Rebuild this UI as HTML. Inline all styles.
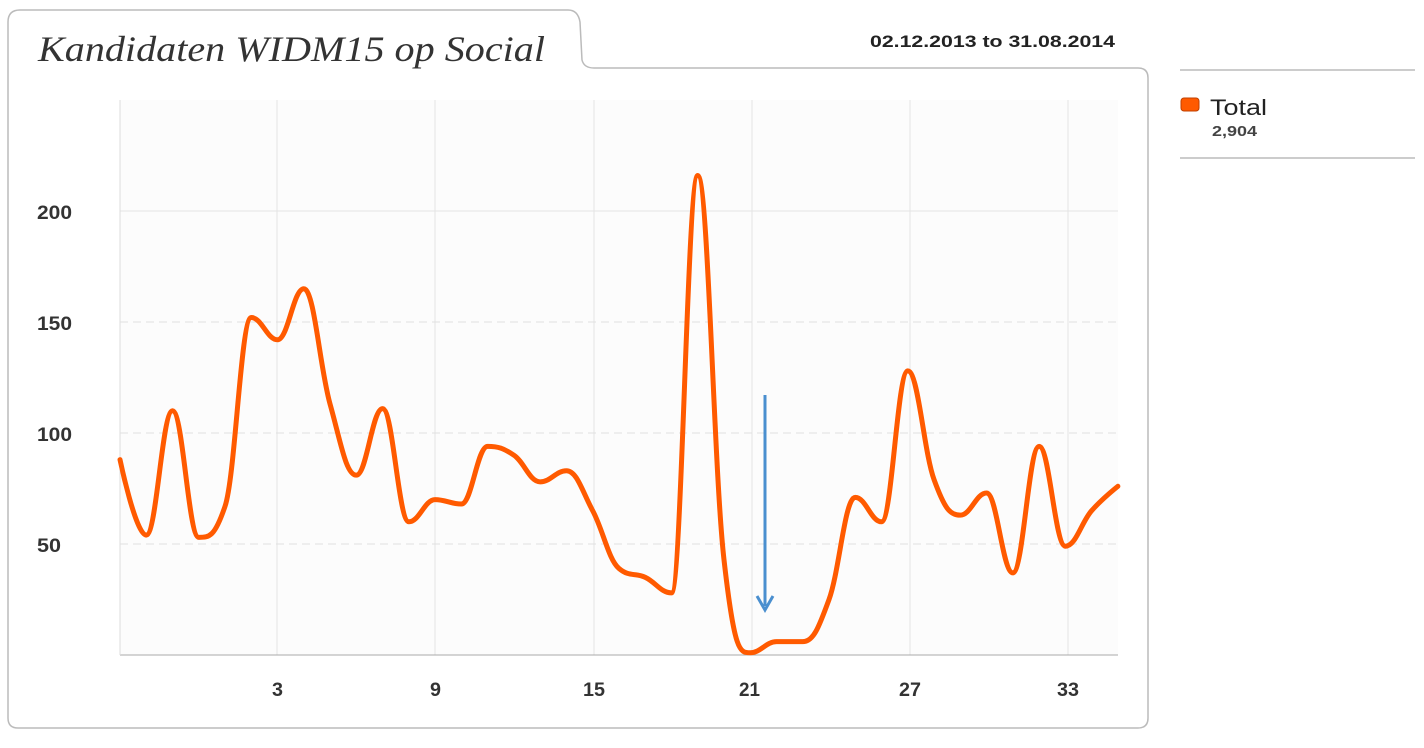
<!DOCTYPE html>
<html><head><meta charset="utf-8"><style>
body{margin:0;background:#fff;width:1424px;height:743px;overflow:hidden;font-family:"Liberation Sans",sans-serif}
.t{font-size:19px;font-weight:bold;fill:#333}
</style></head><body>
<svg width="1424" height="743" xmlns="http://www.w3.org/2000/svg">
<path d="M8,68 V22 Q8,10 20,10 H568 Q578,10 580,22 L582,60 Q584,68 594,68 H1138 Q1148,68 1148,78 V718 Q1148,728 1138,728 H18 Q8,728 8,718 Z" fill="#fff" stroke="#bbb" stroke-width="1.5"/>
<text x="38" y="61" font-family="Liberation Serif,serif" font-style="italic" font-size="36" fill="#333" textLength="507" lengthAdjust="spacingAndGlyphs">Kandidaten WIDM15 op Social</text>
<text x="870" y="47" font-size="17" font-weight="bold" fill="#222" textLength="245" lengthAdjust="spacingAndGlyphs">02.12.2013 to 31.08.2014</text>
<rect x="120" y="100" width="998" height="555" fill="#fcfcfc"/>
<g stroke="#e4e4e4" stroke-width="1">
<line x1="277" y1="100" x2="277" y2="655"/><line x1="435" y1="100" x2="435" y2="655"/><line x1="594" y1="100" x2="594" y2="655"/><line x1="752" y1="100" x2="752" y2="655"/><line x1="910" y1="100" x2="910" y2="655"/><line x1="1068" y1="100" x2="1068" y2="655"/>
<line x1="120" y1="211" x2="1118" y2="211"/>
</g>
<g stroke="#e0e0e0" stroke-dasharray="8,5">
<line x1="120" y1="322" x2="1118" y2="322"/><line x1="120" y1="433" x2="1118" y2="433"/><line x1="120" y1="544" x2="1118" y2="544"/>
</g>
<line x1="120" y1="655" x2="1118" y2="655" stroke="#aaa"/>
<line x1="120" y1="100" x2="120" y2="655" stroke="#ddd"/>
<text class="t" x="37" y="219" textLength="35" lengthAdjust="spacingAndGlyphs">200</text>
<text class="t" x="37" y="330" textLength="35" lengthAdjust="spacingAndGlyphs">150</text>
<text class="t" x="37" y="441" textLength="35" lengthAdjust="spacingAndGlyphs">100</text>
<text class="t" x="37" y="552" textLength="24" lengthAdjust="spacingAndGlyphs">50</text>
<text class="t" x="272" y="696" textLength="11" lengthAdjust="spacingAndGlyphs">3</text>
<text class="t" x="430" y="696" textLength="11" lengthAdjust="spacingAndGlyphs">9</text>
<text class="t" x="583" y="696" textLength="22" lengthAdjust="spacingAndGlyphs">15</text>
<text class="t" x="739" y="696" textLength="21" lengthAdjust="spacingAndGlyphs">21</text>
<text class="t" x="899" y="696" textLength="22" lengthAdjust="spacingAndGlyphs">27</text>
<text class="t" x="1057" y="696" textLength="22" lengthAdjust="spacingAndGlyphs">33</text>
<path id="ln" d="" fill="none" stroke="#ff5a00" stroke-width="5" stroke-linejoin="round" stroke-linecap="round"/>
<line x1="765" y1="395" x2="765" y2="606" stroke="#4a8fcf" stroke-width="3"/>
<path d="M757,596 L765,610 L773,596" fill="none" stroke="#4a8fcf" stroke-width="3"/>
<line x1="1180" y1="70" x2="1415" y2="70" stroke="#999"/>
<rect x="1181" y="98" width="18" height="13" rx="3" fill="#ff5a00" stroke="#c04000"/>
<text x="1210" y="115" font-size="22" fill="#222" textLength="57" lengthAdjust="spacingAndGlyphs">Total</text>
<text x="1212" y="136" font-size="15" font-weight="bold" fill="#444" textLength="45" lengthAdjust="spacingAndGlyphs">2,904</text>
<line x1="1180" y1="158" x2="1415" y2="158" stroke="#999"/>
</svg>
<script>
var v=[88,54,110,53,67,152,142,165,113,81,111,60,70,68,94,90,78,83,65,39,35,28,216,43,1,6,6,25,71,60,128,79,63,73,37,94,49,65,76];
var p=v.map(function(d,i){return [120+i*26.26,655-d*2.22]});
var n=p.length,L=[],R=[],sm=1.5;
for(var i=0;i<n;i++){
 var x=p[i][0],y=p[i][1];
 if(i==0||i==n-1){L[i]=[x,y];R[i]=[x,y];continue;}
 var lx=p[i-1][0],ly=p[i-1][1],nx=p[i+1][0],ny=p[i+1][1];
 var lcx=(sm*x+lx)/(sm+1),lcy=(sm*y+ly)/(sm+1),rcx=(sm*x+nx)/(sm+1),rcy=(sm*y+ny)/(sm+1);
 var c=((rcy-lcy)*(rcx-x))/(rcx-lcx)+y-rcy;lcy+=c;rcy+=c;
 if(lcy>ly&&lcy>y){lcy=Math.max(ly,y);rcy=2*y-lcy;}else if(lcy<ly&&lcy<y){lcy=Math.min(ly,y);rcy=2*y-lcy;}
 if(rcy>ny&&rcy>y){rcy=Math.max(ny,y);lcy=2*y-rcy;}else if(rcy<ny&&rcy<y){rcy=Math.min(ny,y);lcy=2*y-rcy;}
 L[i]=[lcx,lcy];R[i]=[rcx,rcy];
}
var s="M"+p[0][0]+","+p[0][1];
for(var i=1;i<n;i++){s+=" C"+R[i-1][0]+","+R[i-1][1]+" "+L[i][0]+","+L[i][1]+" "+p[i][0]+","+p[i][1];}
document.getElementById("ln").setAttribute("d",s);
</script>
</body></html>
